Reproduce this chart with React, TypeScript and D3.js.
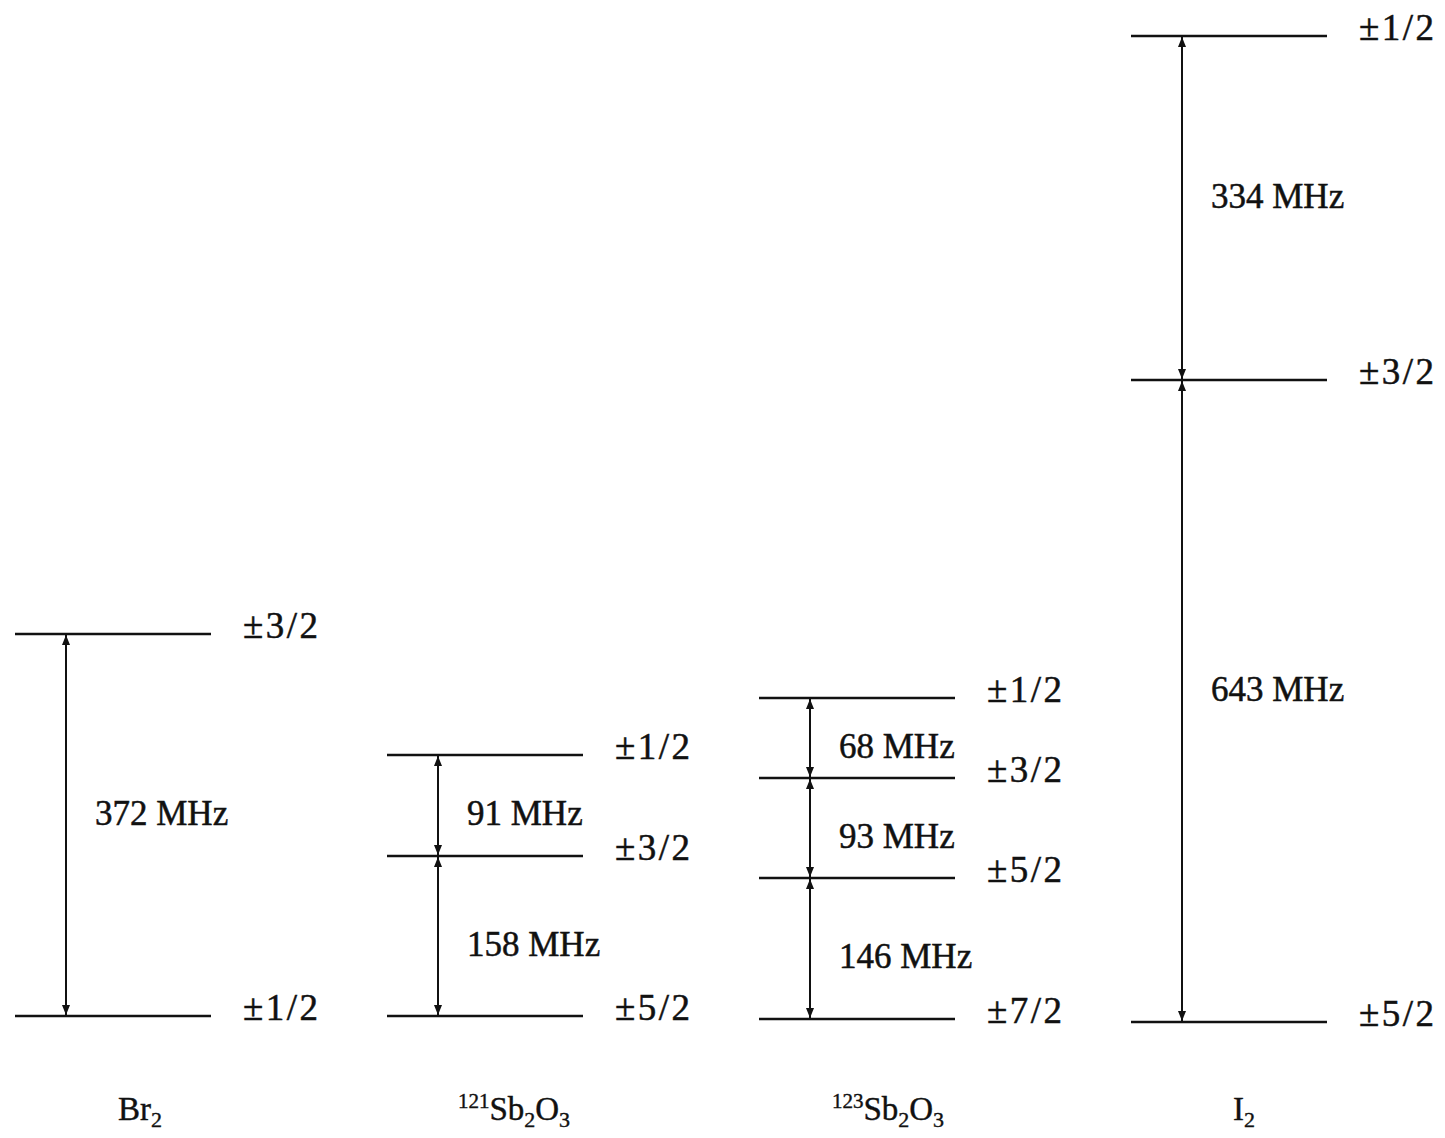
import React from 'react';
import * as d3 from 'd3';

// level heights (baseline = lowest level of I2)
const brLevels = [6, 388];
const brSpins = ['±1/2', '±3/2'];
const brGaps = [372];

const sb121Levels = [6, 166, 267];
const sb121Spins = ['±5/2', '±3/2', '±1/2'];
const sb121Gaps = [158, 91];

const sb123Levels = [3, 144, 244, 324];
const sb123Spins = ['±7/2', '±5/2', '±3/2', '±1/2'];
const sb123Gaps = [146, 93, 68];

const i2Levels = [0, 642, 986];
const i2Spins = ['±5/2', '±3/2', '±1/2'];
const i2Gaps = [643, 334];

// species name pieces: [mass number, element, subscript, element, subscript]
const speciesNames = [
  ['', 'Br', '2', '', ''],
  ['121', 'Sb', '2', 'O', '3'],
  ['123', 'Sb', '2', 'O', '3'],
  ['', 'I', '2', '', ''],
];

const groups = [
  { levels: brLevels, spins: brSpins, gaps: brGaps },
  { levels: sb121Levels, spins: sb121Spins, gaps: sb121Gaps },
  { levels: sb123Levels, spins: sb123Spins, gaps: sb123Gaps },
  { levels: i2Levels, spins: i2Spins, gaps: i2Gaps },
];

const W = 1445;
const H = 1138;
const ink = '#111';
const font = '"Liberation Serif", "DejaVu Serif", serif';

// small hand nudges so the labels sit where the original typesetter put them
const gapLabelShift = [-12, 8, 8, -12];
const nameShift = [0, 2, 4, -12];

const App = () => {
  const x = d3.scaleLinear().domain([0, 3]).range([15, 1131]);
  const y = d3.scaleLinear().domain([0, 1000]).range([1022, 22]);
  const lineW = 196;

  return (
    <svg width={W} height={H} style={{ position: 'absolute', left: 0, top: 0, background: '#fff' }}>
      <defs>
        <marker id="ah" viewBox="0 0 10 8" refX="10" refY="4" markerWidth="10" markerHeight="8"
          markerUnits="userSpaceOnUse" orient="auto-start-reverse">
          <path d="M0,0 L10,4 L0,8 z" fill={ink} />
        </marker>
      </defs>
      {groups.map((g, gi) => {
        const x0 = x(gi);
        const ax = x0 + 51;
        const nm = speciesNames[gi];
        return (
          <g key={gi}>
            {/* levels */}
            {g.levels.map((lv, i) => (
              <line key={'l' + i} x1={x0} x2={x0 + lineW} y1={y(lv)} y2={y(lv)}
                stroke={ink} strokeWidth={2.5} />
            ))}
            {/* spin labels */}
            {g.spins.map((s, i) => (
              <text key={'s' + i} x={x0 + 228} y={y(g.levels[i]) - 9} dominantBaseline="central"
                fontFamily={font} fontSize={37} letterSpacing={2.5} fill={ink}
                stroke={ink} strokeWidth={0.5}>{s}</text>
            ))}
            {/* transitions */}
            {g.gaps.map((v, i) => {
              const y1 = y(g.levels[i]);
              const y2 = y(g.levels[i + 1]);
              return (
                <g key={'g' + i}>
                  <line x1={ax} x2={ax} y1={y1 - 1} y2={y2 + 1} stroke={ink} strokeWidth={2}
                    markerStart="url(#ah)" markerEnd="url(#ah)" />
                  <text x={x0 + 80} y={(y1 + y2) / 2 + gapLabelShift[gi]} dominantBaseline="central"
                    fontFamily={font} fontSize={35} fill={ink} stroke={ink} strokeWidth={0.5}>
                    {`${v} MHz`}
                  </text>
                </g>
              );
            })}
            {/* species name */}
            <text x={x0 + 125 + nameShift[gi]} y={1120} textAnchor="middle" fontFamily={font}
              fontSize={33} fill={ink} stroke={ink} strokeWidth={0.4}>
              {nm[0] && <tspan fontSize={21} dy={-12}>{nm[0]}</tspan>}
              <tspan dy={nm[0] ? 12 : 0}>{nm[1]}</tspan>
              <tspan fontSize={22} dy={7}>{nm[2]}</tspan>
              {nm[3] && <tspan dy={-7}>{nm[3]}</tspan>}
              {nm[4] && <tspan fontSize={22} dy={7}>{nm[4]}</tspan>}
            </text>
          </g>
        );
      })}
    </svg>
  );
};

export default App;
